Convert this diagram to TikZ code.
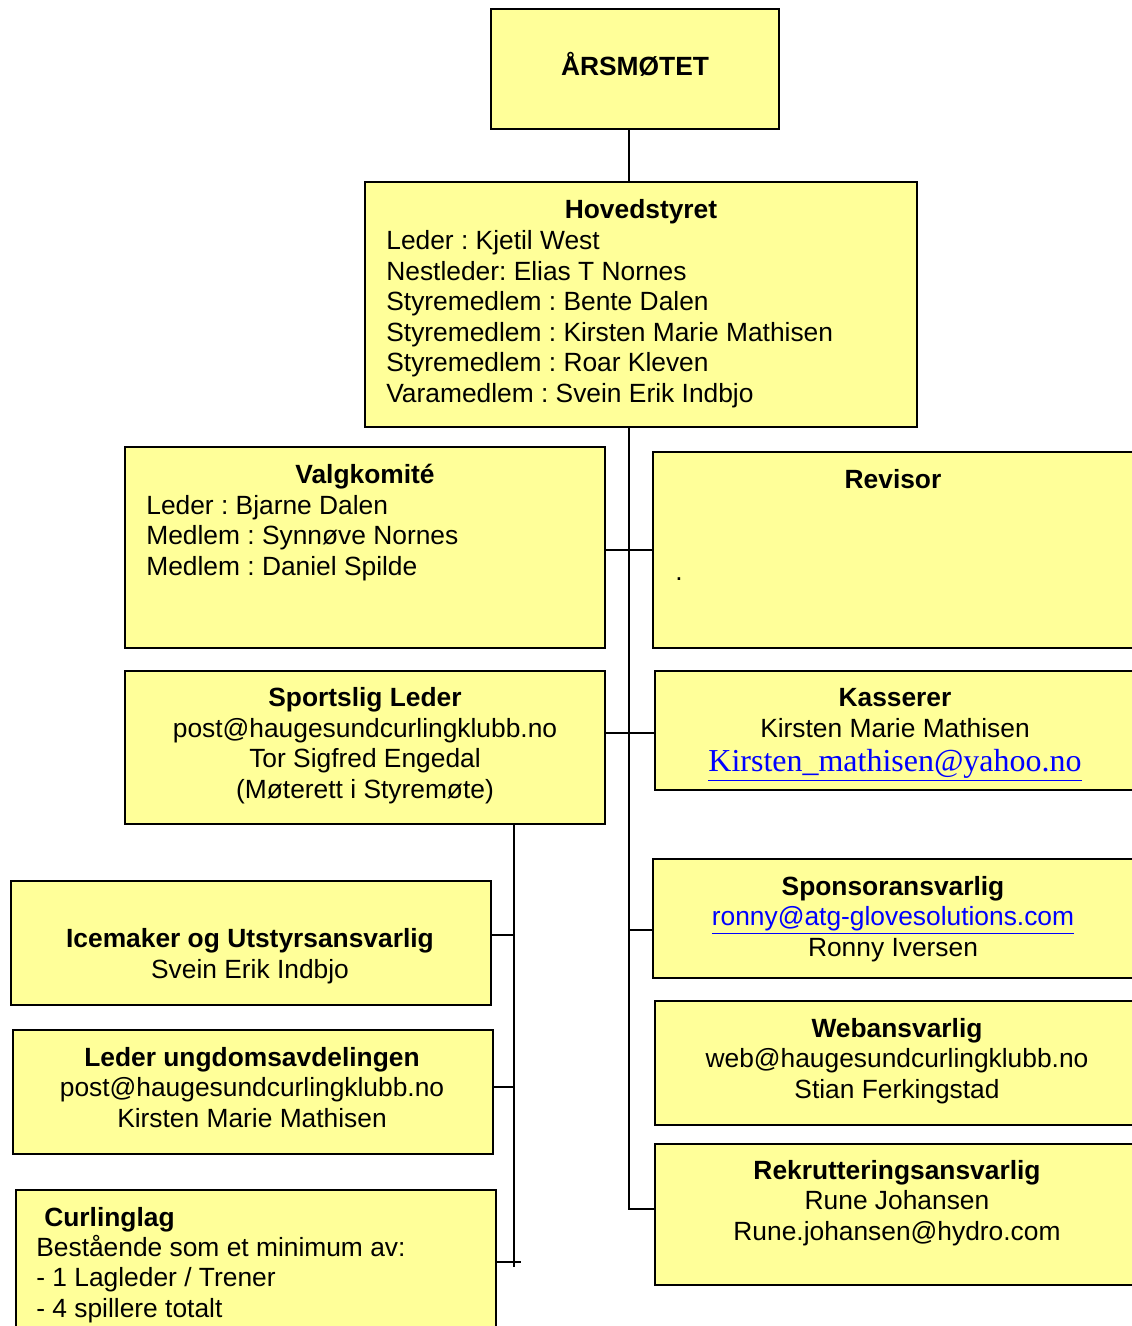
\documentclass[tikz,border=0pt]{standalone}
\usepackage{fontspec}
\setmainfont{Liberation Sans}
\newfontfamily\linkfont{Liberation Serif}
\frenchspacing
\usetikzlibrary{fit,calc,positioning}
\definecolor{Y}{RGB}{255,255,153}
\definecolor{U}{RGB}{0,0,255}
\tikzstyle{box} = [draw=black, line width=1.1pt, fill=Y, inner sep=0pt]
\tikzstyle{txt} = [anchor=base, inner sep=0pt, align=center, font=\fontsize{15}{17.35}\selectfont]
\tikzstyle{lst} = [anchor=base west, inner sep=0pt, align=left, font=\fontsize{15}{17.35}\selectfont]
\tikzstyle{ttl} = [txt, font=\fontsize{15}{17.35}\selectfont\bfseries]
\tikzstyle{conn} = [line width=1pt]
\newcommand{\lnk}[1]{\textcolor{U}{\underline{#1}}}

\begin{document}
\begin{tikzpicture}[x=0.02cm, y=-0.02cm]
    \useasboundingbox (0,0) rectangle (1132,1326);
    \clip (0,0) rectangle (1132,1326);

    % boxes
    \node[box, fit={(491,9) (779,129)}]     (aars)   {};
    \node[box, fit={(365,182) (917,427)}]   (hoved)  {};
    \node[box, fit={(125,447) (605,648)}]   (valg)   {};
    \node[box, fit={(653,452) (1145,648)}]  (rev)    {};
    \node[box, fit={(125,671) (605,824)}]   (sport)  {};
    \node[box, fit={(655,671) (1145,790)}]  (kass)   {};
    \node[box, fit={(653,859) (1145,978)}]  (spons)  {};
    \node[box, fit={(655,1001) (1145,1125)}] (web)   {};
    \node[box, fit={(655,1144) (1145,1285)}] (rekrut) {};
    \node[box, fit={(11,881) (491,1005)}]   (ice)    {};
    \node[box, fit={(13,1030) (493,1154)}]  (ung)    {};
    \node[box, fit={(16,1190) (496,1345)}]  (curl)   {};

    % texts (multi-line nodes sit on the baseline of their last line)
    \node[ttl] (aarsT) at (635,75) {ÅRSMØTET};

    \node[ttl] (hovedT) at (641,218) {Hovedstyret};
    \node[lst] (hovedL) at (386,402) {Leder : Kjetil West\\Nestleder: Elias T Nornes\\Styremedlem : Bente Dalen\\Styremedlem : Kirsten Marie Mathisen\\Styremedlem : Roar Kleven\\Varamedlem : Svein Erik Indbjo};

    \node[ttl] (valgT) at (365,483) {Valgkomité};
    \node[lst] (valgL) at (146,575) {Leder : Bjarne Dalen\\Medlem : Synnøve Nornes\\Medlem : Daniel Spilde};

    \node[ttl] (revT) at (893,488) {Revisor};
    \node[lst] (revL) at (675,580) {.};

    \node[txt] (sportT) at (365,798) {\textbf{Sportslig Leder}\\post@haugesundcurlingklubb.no\\Tor Sigfred Engedal\\(Møterett i Styremøte)};

    \node[txt] (kassT) at (895,737) {\textbf{Kasserer}\\Kirsten Marie Mathisen};
    \node[txt] (kassM) at (895,771) {\linkfont\fontsize{18.2}{20}\selectfont\lnk{Kirsten\_mathisen@yahoo.no}};

    \node[txt] (sponsT) at (893,956) {\textbf{Sponsoransvarlig}\\\lnk{ronny@atg-glovesolutions.com}\\Ronny Iversen};

    \node[txt] (webT) at (897,1098) {\textbf{Webansvarlig}\\web@haugesundcurlingklubb.no\\Stian Ferkingstad};

    \node[txt] (rekrutT) at (897,1240) {\textbf{Rekrutteringsansvarlig}\\Rune Johansen\\Rune.johansen@hydro.com};

    \node[txt] (iceT) at (250,978) {\textbf{Icemaker og Utstyrsansvarlig}\\Svein Erik Indbjo};

    \node[txt] (ungT) at (252,1127) {\textbf{Leder ungdomsavdelingen}\\post@haugesundcurlingklubb.no\\Kirsten Marie Mathisen};

    \node[ttl, anchor=base west] (curlT) at (44,1226) {Curlinglag};
    \node[lst] (curlL) at (36,1317) {Bestående som et minimum av:\\- 1 Lagleder / Trener\\- 4 spillere totalt};

    % connectors
    \coordinate (spine) at (629,1209);
    \coordinate (sub)   at (514,1267);
    \coordinate (sp)    at ($(spons.west)+(0,11.5)$);
    \coordinate (ks)    at ($(kass.west)+(0,2.5)$);
    \draw[conn] (aars.south -| spine) -- (hoved.north -| spine);
    \draw[conn] (hoved.south -| spine) -- (spine) -- ($(rekrut.west)+(0,-5.5)$);
    \draw[conn] (valg.east |- rev.west) -- (rev.west);
    \draw[conn] (sport.east |- ks) -- (ks);
    \draw[conn] (sp -| spine) -- (sp);

    \draw[conn] (sport.south -| sub) -- (sub);
    \draw[conn] ($(ice.east)+(0,-8)$) -- ++(23,0);
    \draw[conn] ($(ung.east)+(0,-5)$) -- ++(21,0);
    \draw[conn] ($(curl.east)+(0,-5.5)$) -- ++(24,0);
\end{tikzpicture}
\end{document}
